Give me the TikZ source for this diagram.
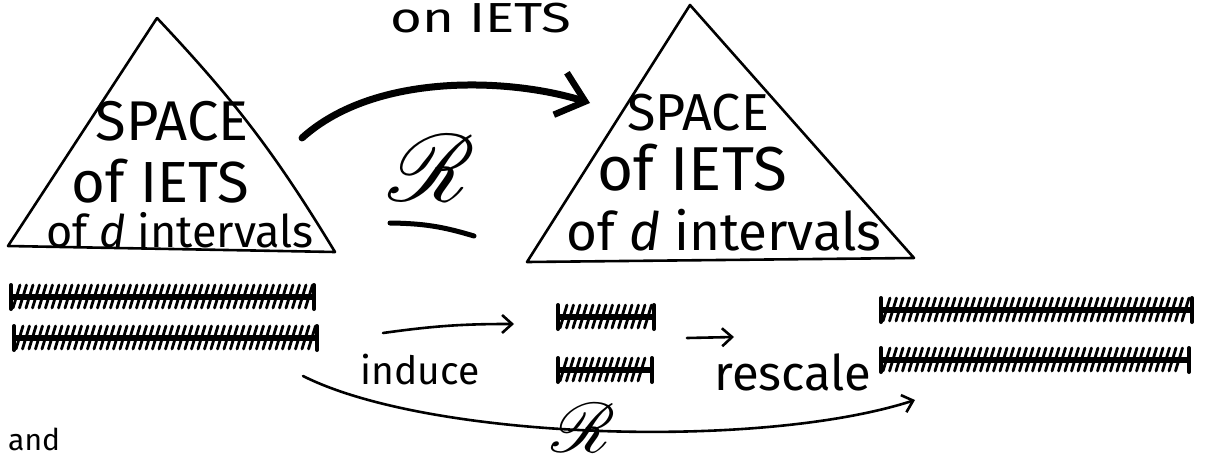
\documentclass[tikz,border=0pt]{standalone}
\usepackage{fontspec}
\setmainfont{Fira Sans}
\usepackage{graphicx}
\usepackage{mathrsfs}
\usetikzlibrary{arrows.meta}
\tikzset{
  edge/.style={line width=2.6pt,line cap=round,line join=round},
  lbl/.style={inner sep=0pt,text=black},
  thinarrow/.style={line width=2.6pt,line cap=round,-{Straight Barb[length=10pt,width=18pt,line width=2.6pt]}},
  thickarrow/.style={line width=7pt,line cap=round,-{Straight Barb[length=26pt,width=44pt,line width=6.5pt]}},
  hatchbar/.pic={
    \pgfmathsetmacro\hbl{#1}
    \pgfmathsetmacro\hbn{\hbl-6}
    \draw[line width=6.5pt] (0,0) -- (\hbl,0);
    \draw[line width=4pt,line cap=round] (1,-12) -- (1,12);
    \draw[line width=4pt,line cap=round] (\hbl-1,-12) -- (\hbl-1,12);
    \foreach \t in {6,12.5,...,\hbn} \draw[line width=2.8pt,line cap=round] (\t+4,-12) -- (\t-3,11);
  }
}
\begin{document}
\begin{tikzpicture}[x=1pt,y=-1pt]
\useasboundingbox (0,0) rectangle (1205,460);
\fill[white] (0,0) rectangle (1205,460);

% left triangle
\coordinate (L1) at (157,18);
\coordinate (L2) at (8,246);
\coordinate (L3) at (335,252);
\draw[edge] (L1) -- (L2) -- (L3) to[bend right=6] (L1);
\node[lbl] (s1) at (172,121) {\fontsize{56}{56}\selectfont SPACE};
\node[lbl] (o1) at (160,181) {\fontsize{58}{58}\selectfont of IETS};
\node[lbl] (d1) at (180,230) {\fontsize{45}{45}\selectfont of \textit{d} intervals};

% right triangle
\coordinate (R1) at (690,5);
\coordinate (R2) at (527,262);
\coordinate (R3) at (914,258);
\draw[edge] (R1) -- (R2) -- (R3) -- cycle;
\node[lbl] (s2) at (698,113) {\fontsize{52}{52}\selectfont SPACE};
\node[lbl] (o2) at (692,168) {\fontsize{62}{62}\selectfont of IETS};
\node[lbl] (d2) at (724,230) {\fontsize{53}{53}\selectfont of \textit{d} intervals};

% top label
\node[lbl] (top) at (481,18) {\scalebox{1.3}[1]{\fontsize{42}{42}\selectfont on IETS}};

% thick arrow
\coordinate (ts) at (302,138);
\coordinate (te) at (590,103);
\draw[thickarrow] (ts) .. controls (375,72) and (510,78) .. (te);

% big R and underline
\node[lbl] (Rbig) at (432,168) {\scalebox{9.5}{$\mathscr{R}$}};
\coordinate (u1) at (390,223);
\coordinate (u2) at (474,236);
\draw[line width=5pt,line cap=round] (u1) to[bend left=8] (u2);

% hatched bars
\pic at (10,297) {hatchbar=305};
\pic at (13,338) {hatchbar=305};
\pic at (557,317) {hatchbar=98};
\pic at (557,370) {hatchbar=96};
\pic at (880,310) {hatchbar=313};
\pic at (880,360) {hatchbar=310};

% small arrows
\coordinate (a1s) at (383,333);
\coordinate (a1e) at (514,324);
\draw[thinarrow] (a1s) to[bend left=4] (a1e);
\coordinate (a2s) at (687,338);
\coordinate (a2e) at (734,337);
\draw[thinarrow] (a2s) -- (a2e);

\node[lbl] (ind) at (420,370) {\fontsize{39}{39}\selectfont induce};
\node[lbl] (res) at (793,372) {\fontsize{49}{49}\selectfont rescale};

% bottom arrow
\coordinate (bs) at (303,376);
\coordinate (be) at (915,400);
\draw[thinarrow] (bs) .. controls (430,440) and (760,450) .. (be);
\node[lbl] (Rsm) at (583,428) {\scalebox{7}{$\mathscr{R}$}};

% bottom-left word
\node[lbl,anchor=south west] (and) at (8,451) {\fontsize{30}{30}\selectfont and};
\end{tikzpicture}
\end{document}
